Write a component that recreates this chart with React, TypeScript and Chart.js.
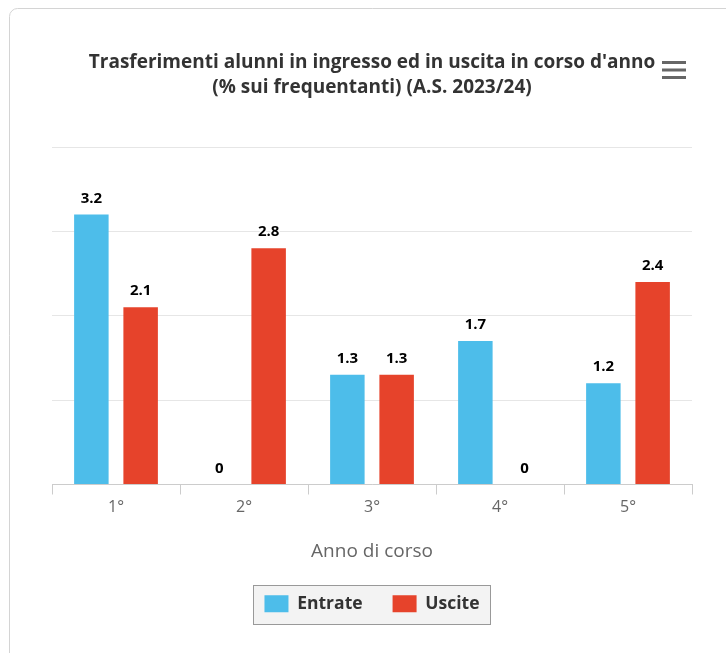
import React, { useEffect, useRef } from "react";
import { Chart, registerables } from "chart.js";

Chart.register(...registerables);

const categories = ["1°", "2°", "3°", "4°", "5°"];
const entrate = [3.2, 0, 1.3, 1.7, 1.2];
const uscite = [2.1, 2.8, 1.3, 0, 2.4];
const seriesNames = ["Entrate", "Uscite"];
const titleLines = [
  "Trasferimenti alunni in ingresso ed in uscita in corso d'anno",
  "(% sui frequentanti) (A.S. 2023/24)",
];
const xAxisTitle = "Anno di corso";

const BLUE = "#4DBDEA";
const RED = "#E6432B";
const FONT = "'Open Sans', 'Noto Sans', sans-serif";

const decorPlugin = {
  id: "decor",
  beforeDraw(chart: any) {
    const ctx = chart.ctx;
    ctx.save();
    // card border
    ctx.strokeStyle = "#d4d4d4";
    ctx.lineWidth = 1;
    const x = 9.5, y = 8.5, w = 760, h = 700, r = 8;
    ctx.beginPath();
    ctx.moveTo(x + r, y);
    ctx.lineTo(x + w, y);
    ctx.moveTo(x, y + h);
    ctx.lineTo(x, y + r);
    ctx.arcTo(x, y, x + r, y, r);
    ctx.stroke();
    // legend box
    const lg = chart.legend;
    if (lg && lg.legendHitBoxes && lg.legendHitBoxes.length) {
      const hb = lg.legendHitBoxes;
      const minX = Math.min(...hb.map((b: any) => b.left));
      const maxX = Math.max(...hb.map((b: any) => b.left + b.width));
      const cy = hb[0].top + hb[0].height / 2;
      const bx = Math.round(minX - 11) + 0.5;
      const by = Math.round(cy - 19) + 0.5;
      const bw = Math.round(maxX - minX + 22);
      ctx.fillStyle = "#f3f3f3";
      ctx.strokeStyle = "#999999";
      ctx.fillRect(bx, by, bw, 39);
      ctx.strokeRect(bx, by, bw, 39);
    }
    ctx.restore();
  },
  afterDraw(chart: any) {
    const ctx = chart.ctx;
    ctx.save();
    // hamburger menu icon
    ctx.fillStyle = "#666666";
    [61, 68.5, 76].forEach((yy) => ctx.fillRect(662, yy, 24, 3));
    // data labels
    ctx.font = `bold 15px ${FONT}`;
    ctx.fillStyle = "#000000";
    ctx.textAlign = "center";
    ctx.textBaseline = "alphabetic";
    chart.data.datasets.forEach((ds: any, di: number) => {
      const meta = chart.getDatasetMeta(di);
      meta.data.forEach((el: any, i: number) => {
        const v = ds.data[i];
        ctx.lineWidth = 3;
        ctx.strokeStyle = "#ffffff";
        ctx.lineJoin = "round";
        ctx.strokeText(String(v), el.x, el.y - 12);
        ctx.fillText(String(v), el.x, el.y - 12);
      });
    });
    ctx.restore();
  },
};

export default function App() {
  const ref = useRef<HTMLCanvasElement>(null);
  useEffect(() => {
    if (!ref.current) return;
    const chart = new Chart(ref.current, {
      type: "bar",
      data: {
        labels: categories,
        datasets: [
          {
            label: seriesNames[0],
            data: entrate,
            backgroundColor: BLUE,
            borderWidth: 0,
            categoryPercentage: 0.77,
            barPercentage: 0.7,
          },
          {
            label: seriesNames[1],
            data: uscite,
            backgroundColor: RED,
            borderWidth: 0,
            categoryPercentage: 0.77,
            barPercentage: 0.7,
          },
        ],
      },
      options: {
        animation: false,
        responsive: true,
        maintainAspectRatio: false,
        layout: { padding: { left: 52, right: 34, top: 0, bottom: 30.5 } },
        plugins: {
          title: {
            display: true,
            text: titleLines,
            color: "#333333",
            font: { family: FONT, size: 19, weight: "bold", lineHeight: "25px" },
            padding: { top: 50, bottom: 47 },
          },
          legend: {
            display: true,
            position: "bottom",
            labels: {
              color: "#333333",
              font: { family: FONT, size: 17.5, weight: "bold" },
              boxWidth: 24,
              boxHeight: 17,
              padding: 30,
            },
          },
          tooltip: { enabled: false },
        },
        scales: {
          x: {
            grid: {
              offset: true,
              drawOnChartArea: false,
              drawTicks: true,
              tickLength: 10,
              color: "#cccccc",
            },
            border: { display: true, color: "#cccccc" },
            ticks: {
              color: "#666666",
              font: { family: FONT, size: 16 },
              padding: 3,
            },
            title: {
              display: true,
              text: xAxisTitle,
              color: "#666666",
              font: { family: FONT, size: 19 },
              padding: { top: 20.5, bottom: 2 },
            },
          },
          y: {
            min: 0,
            max: 4,
            ticks: { display: false, stepSize: 1 },
            grid: { color: "#e6e6e6", drawTicks: false },
            border: { display: false },
            afterFit(scale: any) {
              scale.width = 0;
            },
          },
        },
      },
      plugins: [decorPlugin],
    });
    return () => chart.destroy();
  }, []);
  return (
    <div style={{ position: "fixed", left: 0, top: 0, width: 726, height: 653, background: "#fff" }}>
      <canvas ref={ref} />
    </div>
  );
}
